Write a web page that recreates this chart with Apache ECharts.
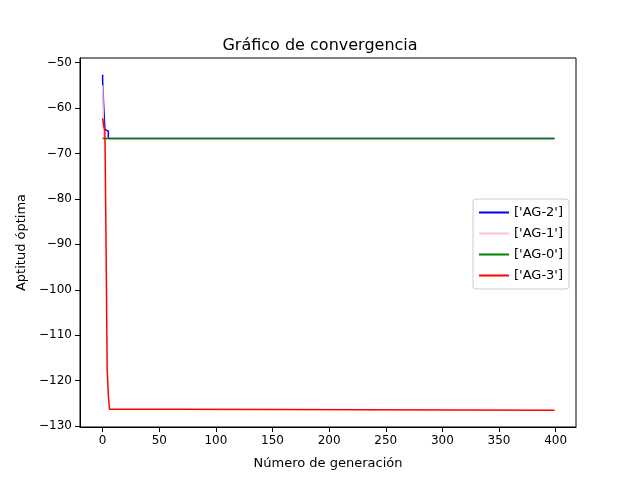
<!DOCTYPE html>
<html>
<head>
<meta charset="utf-8">
<script src="https://cdn.jsdelivr.net/npm/echarts@6/dist/echarts.min.js"></script>
<style>body{margin:0}#chart{width:640px;height:480px}</style>
</head>
<body>
<div id="chart"></div>
<script>
// [generation, best fitness] break points; values are constant between them
const ag2 = [[0, -52.7], [0, -54], [1, -60], [2, -64.7], [3, -65.1], [5, -65.1], [5, -66.7], [399, -66.7]];
const ag1 = [[0, -55], [1, -66.7], [399, -66.7]];
const ag0 = [[0, -66.7], [399, -66.7]];
const ag3 = [[0, -62.3], [1, -64], [2, -65], [3, -90], [4, -117.5], [5, -123], [6, -126.3], [64, -126.3], [65, -126.5], [399, -126.5]];
const xTicks = [0, 50, 100, 150, 200, 250, 300, 350, 400];
const yTicks = [-130, -120, -110, -100, -90, -80, -70, -60, -50];

const font = "DejaVu Sans";
const chart = echarts.init(document.getElementById("chart"));
const mk = (name, data, color) => ({
  name, type: "line", data, showSymbol: false, animation: false,
  lineStyle: { color, width: 1.5 }, itemStyle: { color }
});
chart.setOption({
  textStyle: { fontFamily: font },
  title: { text: "Gráfico de convergencia", left: "center", top: 33,
    textStyle: { fontFamily: font, fontSize: 16, fontWeight: "normal", color: "#000" } },
  grid: { left: 80, right: 64, top: 58, bottom: 53 },
  legend: {
    data: ["['AG-2']", "['AG-1']", "['AG-0']", "['AG-3']"].map(n => ({ name: n, icon: "path://M0,0H30V2H0Z" })),
    orient: "vertical", right: 71, top: 199, itemWidth: 30, itemHeight: 3, itemGap: 8,
    padding: [7, 6, 7, 6], borderColor: "#ccc", borderWidth: 1, borderRadius: 3,
    textStyle: { fontFamily: font, fontSize: 13, color: "#000" }
  },
  xAxis: {
    type: "value", min: -20, max: 418,
    name: "Número de generación", nameLocation: "middle", nameGap: 30,
    nameTextStyle: { fontFamily: font, fontSize: 13, color: "#000" },
    splitLine: { show: false },
    axisLine: { onZero: false, lineStyle: { color: "#000" } },
    axisTick: { customValues: xTicks, lineStyle: { color: "#000" } },
    axisLabel: { customValues: xTicks, color: "#000", fontSize: 12, fontFamily: font }
  },
  yAxis: {
    type: "value", min: -130.2, max: -49,
    name: "Aptitud óptima", nameLocation: "middle", nameGap: 50,
    nameTextStyle: { fontFamily: font, fontSize: 13, color: "#000" },
    splitLine: { show: false },
    axisLine: { show: true, onZero: false, lineStyle: { color: "#000" } },
    axisTick: { show: true, customValues: yTicks, lineStyle: { color: "#000" } },
    axisLabel: { customValues: yTicks, color: "#000", fontSize: 12, fontFamily: font,
      formatter: v => String(v).replace("-", "\u2212") }
  },
  graphic: [{ type: "rect", shape: { x: 80, y: 58, width: 496, height: 369 },
    style: { fill: "none", stroke: "#000", lineWidth: 1 }, silent: true, z: 100 }],
  series: [
    mk("['AG-2']", ag2, "#0000ff"),
    mk("['AG-1']", ag1, "#ffc0cb"),
    mk("['AG-0']", ag0, "#008000"),
    mk("['AG-3']", ag3, "#ff0000")
  ]
});
</script>
</body>
</html>
